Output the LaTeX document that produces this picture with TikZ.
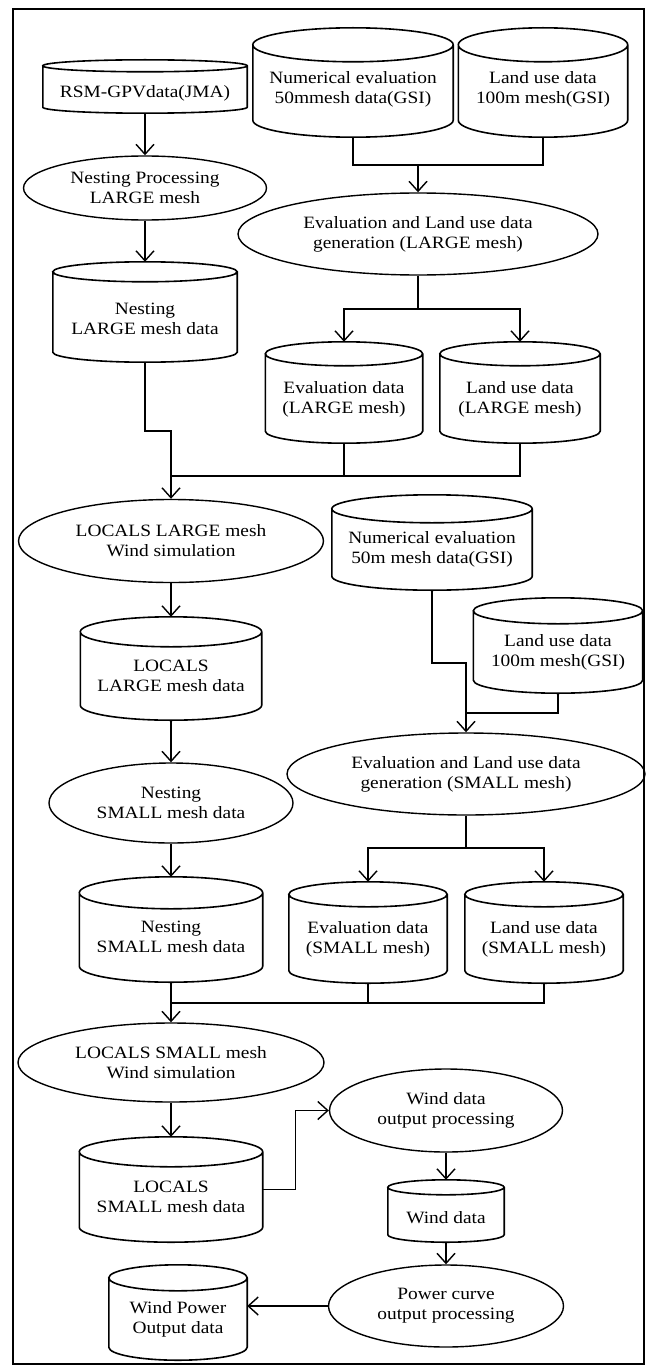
\documentclass[tikz,border=0pt]{standalone}
\usepackage{fontspec}
\setmainfont{Liberation Serif}[FakeStretch=1.12]
\usetikzlibrary{arrows.meta,positioning,calc,shapes.geometric}

\tikzset{
	flow/.style={line width=1.4pt},
	arr/.style={flow,-{Straight Barb[length=10pt,width=18pt]}},
	proc/.style 2 args={draw,ellipse,line width=1.4pt,inner sep=0pt,
		minimum width=#1,minimum height=#2,align=center},
	dbbox/.style 2 args={inner sep=0pt,minimum width=#1,minimum height=#2},
	dbtext/.style={align=center,yshift=-7pt}
}

% outline of a data store: #1 node, #2 half height of its lid
\newcommand{\dbshape}[2]{%
	\draw[line width=1.6pt] let \p1=($(#1.north east)-(#1.north)$) in
	($(#1.north west)+(0,-#2pt)$) -- ($(#1.south west)+(0,#2pt)$)
	arc[start angle=180,end angle=360,x radius=\x1,y radius=#2pt]
	-- ($(#1.north east)+(0,-#2pt)$)
	arc[start angle=0,end angle=180,x radius=\x1,y radius=#2pt]
	arc[start angle=180,end angle=360,x radius=\x1,y radius=#2pt];
}

\begin{document}
\begin{tikzpicture}[x=1pt,y=1pt,font=\fontsize{17.3pt}{20pt}\selectfont]
	
	\useasboundingbox (0,0) rectangle (649,-1367);
	\draw[line width=1.4pt] (13,-9) rectangle (644,-1364);
	
	% LARGE mesh
	\node[dbbox={204}{53},label={[dbtext]center:{RSM-GPVdata(JMA)}}] (rsm) at (145,-86.5) {};
	\node[dbbox={200}{109},label={[dbtext]center:{Numerical evaluation\\50mmesh data(GSI)}}] (numL) at (353,-82.5) {};
	\node[dbbox={169}{109},label={[dbtext]center:{Land use data\\100m mesh(GSI)}}] (landL) at (543,-82.5) {};
	\node[proc={243}{64}] (nestPL) at (145,-188) {Nesting Processing\\LARGE mesh};
	\node[proc={360}{82}] (genL) at (418,-234) {Evaluation and Land use data\\generation (LARGE mesh)};
	\node[dbbox={184}{100},label={[dbtext]center:{Nesting\\LARGE mesh data}}] (nestL) at (145,-312) {};
	\node[dbbox={157}{101},label={[dbtext]center:{Evaluation data\\(LARGE mesh)}}] (evalL) at (344,-392.5) {};
	\node[dbbox={160}{101},label={[dbtext]center:{Land use data\\(LARGE mesh)}}] (landLm) at (520,-392.5) {};
	\node[proc={305}{83}] (simL) at (171,-541) {LOCALS LARGE mesh\\Wind simulation};
	\node[dbbox={181}{103},label={[dbtext]center:{LOCALS\\LARGE mesh data}}] (locL) at (171,-668.5) {};
	
	% SMALL mesh
	\node[dbbox={200}{95},label={[dbtext]center:{Numerical evaluation\\50m mesh data(GSI)}}] (numS) at (432,-542.5) {};
	\node[dbbox={169}{95},label={[dbtext]center:{Land use data\\100m mesh(GSI)}}] (landS) at (558,-645.5) {};
	\node[proc={358}{82}] (genS) at (466,-774) {Evaluation and Land use data\\generation (SMALL mesh)};
	\node[proc={244}{80}] (nestPS) at (171,-803) {Nesting\\SMALL mesh data};
	\node[dbbox={183}{105},label={[dbtext]center:{Nesting\\SMALL mesh data}}] (nestS) at (171,-929.5) {};
	\node[dbbox={158}{101},label={[dbtext]center:{Evaluation data\\(SMALL mesh)}}] (evalS) at (368,-932.5) {};
	\node[dbbox={158}{101},label={[dbtext]center:{Land use data\\(SMALL mesh)}}] (landSm) at (544,-932.5) {};
	\node[proc={306}{79}] (simS) at (171,-1062.5) {LOCALS SMALL mesh\\Wind simulation};
	\node[dbbox={183}{105},label={[dbtext]center:{LOCALS\\SMALL mesh data}}] (locS) at (171,-1189.5) {};
	
	% output
	\node[proc={233}{83}] (windP) at (446,-1110.5) {Wind data\\output processing};
	\node[dbbox={116}{62},label={[dbtext]center:{Wind data}}] (wind) at (446,-1211) {};
	\node[proc={235}{82}] (powP) at (446,-1306) {Power curve\\output processing};
	\node[dbbox={138}{95},label={[dbtext]center:{Wind Power\\Output data}}] (wpo) at (178,-1312.5) {};
	
	\foreach \db/\lid in {rsm/6,numL/17,landL/17,nestL/10,evalL/12,landLm/12,locL/15,
		numS/14,landS/13,nestS/16,evalS/12.5,landSm/12.5,locS/15,wind/7.5,wpo/13}
	\dbshape{\db}{\lid};
	
	\coordinate (j1) at (418,-165);
	\coordinate (j2) at (418,-309);
	\coordinate (k1) at (145,-431);
	\coordinate (j3) at (171,-476);
	\coordinate (k2) at (432,-663);
	\coordinate (j4) at (466,-713);
	\coordinate (j5) at (466,-848);
	\coordinate (j6) at (171,-1003);
	
	\draw[arr] (rsm.south) -- (nestPL.north);
	\draw[flow] (numL.south) |- (j1) -| (landL.south);
	\draw[arr] (j1) -- (genL.north);
	\draw[arr] (nestPL.south) -- (nestL.north);
	\draw[flow] (genL.south) -- (j2);
	\draw[arr] (j2) -| (evalL.north);
	\draw[arr] (j2) -| (landLm.north);
	\draw[arr] (nestL.south) -- (k1) -| (simL.north);
	\draw[flow] (evalL.south) |- (j3);
	\draw[flow] (landLm.south) |- (j3);
	\draw[arr] (simL.south) -- (locL.north);
	\draw[arr] (locL.south) -- (nestPS.north);
	
	\draw[arr] (numS.south) -- (k2) -| (genS.north);
	\draw[flow] (landS.south) |- (j4);
	\draw[flow] (genS.south) -- (j5);
	\draw[arr] (j5) -| (evalS.north);
	\draw[arr] (j5) -| (landSm.north);
	\draw[arr] (nestPS.south) -- (nestS.north);
	\draw[arr] (nestS.south) -- (simS.north);
	\draw[flow] (evalS.south) |- (j6);
	\draw[flow] (landSm.south) |- (j6);
	\draw[arr] (simS.south) -- (locS.north);
	
	\draw[arr] (locS.east) -- ++(33,0) |- (windP.west);
	\draw[arr] (windP.south) -- (wind.north);
	\draw[arr] (wind.south) -- (powP.north);
	\draw[arr] (powP.west) -- (powP.west -| wpo.east);
	
\end{tikzpicture}
\end{document}
